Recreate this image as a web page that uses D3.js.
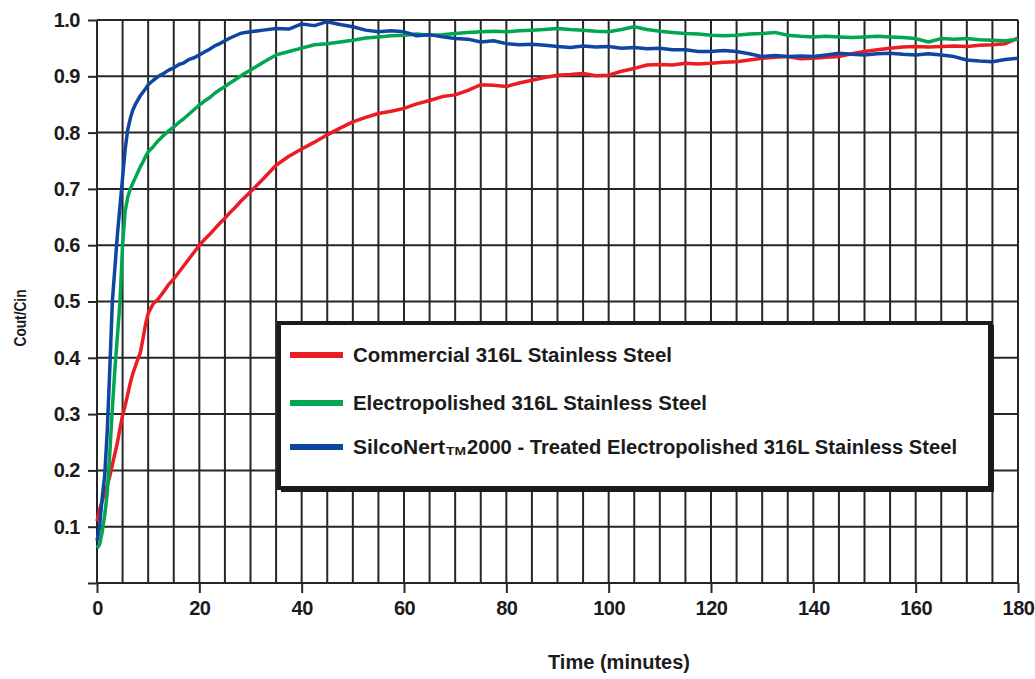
<!DOCTYPE html>
<html>
<head>
<meta charset="utf-8">
<script src="https://cdn.jsdelivr.net/npm/d3@7"></script>
<style>
body { margin: 0; background: #fff; }
text { font-family: "Liberation Sans", Arial, Helvetica, sans-serif; fill: #1b1b1b; }
</style>
</head>
<body>
<svg width="1035" height="679"></svg>
<script>
// ### Data ###
var times = [0,0.5,1,1.5,2,2.5,3,3.5,4,4.5,5,5.5,6,6.5,7,7.5,8,8.5,9,9.5,10,
  11,12,13,14,15,16,17,18,19,20,21,22,23,24,25,26,27,28,29,30,
  32.5,35,37.5,40,42.5,45,47.5,50,52.5,55,57.5,60,62.5,65,67.5,70,72.5,75,77.5,80,
  82.5,85,87.5,90,92.5,95,97.5,100,102.5,105,107.5,110,112.5,115,117.5,120,122.5,125,127.5,130,
  132.5,135,137.5,140,142.5,145,147.5,150,152.5,155,157.5,160,162.5,165,167.5,170,172.5,175,177.5,180];

var commercial = [0.11,0.13,0.145,0.16,0.173,0.19,0.21,0.23,0.25,0.275,0.298,0.315,0.335,0.355,0.372,0.385,0.398,0.41,0.435,0.46,0.479,
  0.496,0.505,0.517,0.530,0.540,0.552,0.564,0.576,0.588,0.600,0.610,0.619,0.629,0.639,0.648,0.658,0.667,0.677,0.686,0.695,
  0.718,0.742,0.758,0.771,0.783,0.796,0.808,0.819,0.827,0.834,0.838,0.843,0.851,0.857,0.864,0.867,0.875,0.885,0.884,0.882,
  0.888,0.893,0.898,0.902,0.903,0.905,0.901,0.902,0.909,0.914,0.920,0.921,0.920,0.923,0.922,0.923,0.925,0.926,0.929,0.932,
  0.934,0.935,0.931,0.932,0.934,0.935,0.940,0.944,0.947,0.950,0.952,0.953,0.952,0.953,0.954,0.953,0.955,0.956,0.958,0.968];

var electropolished = [0.062,0.068,0.09,0.12,0.16,0.23,0.31,0.38,0.44,0.50,0.60,0.66,0.685,0.70,0.71,0.72,0.73,0.74,0.748,0.758,0.766,
  0.775,0.786,0.795,0.803,0.810,0.818,0.825,0.833,0.841,0.849,0.856,0.862,0.870,0.876,0.882,0.888,0.894,0.900,0.906,0.911,
  0.925,0.938,0.944,0.950,0.956,0.958,0.961,0.964,0.968,0.970,0.972,0.973,0.975,0.973,0.974,0.976,0.978,0.979,0.980,0.979,
  0.981,0.982,0.983,0.985,0.983,0.982,0.980,0.979,0.983,0.988,0.983,0.980,0.978,0.976,0.975,0.973,0.972,0.973,0.975,0.976,
  0.978,0.973,0.971,0.970,0.971,0.970,0.969,0.970,0.971,0.970,0.969,0.967,0.961,0.967,0.966,0.967,0.965,0.964,0.963,0.966];

var silconert = [0.075,0.10,0.15,0.19,0.27,0.38,0.50,0.56,0.62,0.67,0.72,0.77,0.805,0.825,0.84,0.85,0.858,0.866,0.872,0.878,0.885,
  0.893,0.900,0.905,0.911,0.915,0.921,0.924,0.930,0.933,0.938,0.943,0.948,0.954,0.958,0.963,0.968,0.972,0.976,0.978,0.979,
  0.982,0.985,0.984,0.993,0.990,0.997,0.992,0.988,0.982,0.979,0.981,0.979,0.972,0.974,0.970,0.967,0.966,0.961,0.963,0.958,
  0.956,0.957,0.955,0.953,0.951,0.954,0.952,0.953,0.950,0.951,0.949,0.950,0.947,0.947,0.944,0.944,0.946,0.944,0.940,0.935,
  0.937,0.935,0.936,0.935,0.938,0.941,0.939,0.938,0.940,0.941,0.939,0.938,0.940,0.938,0.935,0.929,0.927,0.926,0.930,0.932];

var seriesNames = ['Commercial 316L Stainless Steel', 'Electropolished 316L Stainless Steel',
  'SilcoNert|TM|2000 - Treated Electropolished 316L Stainless Steel'];
var seriesValues = [commercial, electropolished, silconert];
var colors = ['#ec1c24', '#00a650', '#0f46a2'];

var yTicks = [0.1,0.2,0.3,0.4,0.5,0.6,0.7,0.8,0.9,1.0];
var xTicks = [0,20,40,60,80,100,120,140,160,180];

// ### Setting up canvas ###
var margin = {top: 20, right: 17, bottom: 96, left: 97};
var width = 1035 - margin.left - margin.right;
var height = 679 - margin.top - margin.bottom;

var svg = d3.select('svg');
var g = svg.append('g').attr('transform', `translate(${margin.left},${margin.top})`);

// ### Scales ###
var xScale = d3.scaleLinear().domain([0, 180]).range([0, width]);
var yScale = d3.scaleLinear().domain([0, 1]).range([height, 0]);

// ### Grid ###
var gridColor = '#262626';
g.append('g').selectAll('line')
  .data(d3.range(0, 181, 5))
  .enter().append('line')
  .attr('x1', d => xScale(d)).attr('x2', d => xScale(d))
  .attr('y1', 0).attr('y2', height)
  .attr('stroke', gridColor).attr('stroke-width', 2);

g.append('g').selectAll('line')
  .data(d3.range(0, 11).map(d => d / 10))
  .enter().append('line')
  .attr('x1', 0).attr('x2', width)
  .attr('y1', d => yScale(d)).attr('y2', d => yScale(d))
  .attr('stroke', gridColor).attr('stroke-width', 2);

// ### Axes ###
var yAxis = d3.axisLeft(yScale)
  .tickValues([0].concat(yTicks))
  .tickSize(9).tickPadding(8)
  .tickFormat(d => d === 0 ? '' : d3.format('.1f')(d));
var yG = g.append('g').call(yAxis);
yG.select('.domain').remove();
yG.selectAll('line').attr('stroke', gridColor).attr('stroke-width', 2);
yG.selectAll('text').attr('font-size', 20).attr('font-weight', 'bold')
  .attr('font-family', '"Liberation Sans", Arial, sans-serif').attr('fill', '#1b1b1b')
  .attr('letter-spacing', -0.5);

var xAxis = d3.axisBottom(xScale)
  .tickValues(xTicks)
  .tickSize(10).tickPadding(8)
  .tickFormat(d3.format('d'));
var xG = g.append('g').attr('transform', `translate(0,${height})`).call(xAxis);
xG.select('.domain').remove();
xG.selectAll('line').attr('stroke', gridColor).attr('stroke-width', 2);
xG.selectAll('text').attr('font-size', 20).attr('font-weight', 'bold')
  .attr('font-family', '"Liberation Sans", Arial, sans-serif').attr('fill', '#1b1b1b')
  .attr('letter-spacing', -0.5);

// ### Lines ###
var line = d3.line()
  .x((d, i) => xScale(times[i]))
  .y(d => yScale(d));

g.append('g').selectAll('path')
  .data(seriesValues)
  .enter().append('path')
  .attr('d', d => line(d))
  .attr('fill', 'none')
  .attr('stroke', (d, i) => colors[i])
  .attr('stroke-width', 3.5)
  .attr('stroke-linejoin', 'round');

// ### Axis titles ###
svg.append('text')
  .attr('transform', 'translate(26,318) rotate(-90)')
  .attr('text-anchor', 'middle')
  .attr('font-size', 17).attr('font-weight', 'bold')
  .attr('textLength', 57).attr('lengthAdjust', 'spacingAndGlyphs')
  .text('Cout/Cin');

svg.append('text')
  .attr('x', 548).attr('y', 669)
  .attr('font-size', 20).attr('font-weight', 'bold')
  .attr('textLength', 142).attr('lengthAdjust', 'spacingAndGlyphs')
  .text('Time (minutes)');

// ### Legend ###
var legend = svg.append('g');
legend.append('rect')
  .attr('x', 281).attr('y', 325).attr('width', 713).attr('height', 167)
  .attr('fill', '#1b1b1b');
legend.append('rect')
  .attr('x', 279).attr('y', 323).attr('width', 711).attr('height', 165)
  .attr('fill', '#fff').attr('stroke', '#1b1b1b').attr('stroke-width', 4);

var rowY = [355, 403, 447];
var textWidths = [319, 354, null];

seriesNames.forEach(function(name, i) {
  legend.append('line')
    .attr('x1', 290).attr('x2', 343)
    .attr('y1', rowY[i]).attr('y2', rowY[i])
    .attr('stroke', colors[i]).attr('stroke-width', 6);
  var parts = name.split('|');
  if (parts.length === 1) {
    legend.append('text')
      .attr('x', 353).attr('y', rowY[i] + 7)
      .attr('font-size', 20).attr('font-weight', 'bold')
      .attr('textLength', textWidths[i]).attr('lengthAdjust', 'spacingAndGlyphs')
      .text(name);
  } else {
    legend.append('text')
      .attr('x', 353).attr('y', rowY[i] + 7)
      .attr('font-size', 20).attr('font-weight', 'bold')
      .attr('textLength', 92).attr('lengthAdjust', 'spacingAndGlyphs')
      .text(parts[0]);
    legend.append('text')
      .attr('x', 446).attr('y', rowY[i] + 8)
      .attr('font-size', 11).attr('font-weight', 'bold')
      .attr('textLength', 20).attr('lengthAdjust', 'spacingAndGlyphs')
      .text(parts[1]);
    legend.append('text')
      .attr('x', 467).attr('y', rowY[i] + 7)
      .attr('font-size', 20).attr('font-weight', 'bold')
      .attr('textLength', 490).attr('lengthAdjust', 'spacingAndGlyphs')
      .text(parts[2]);
  }
});
</script>
</body>
</html>
